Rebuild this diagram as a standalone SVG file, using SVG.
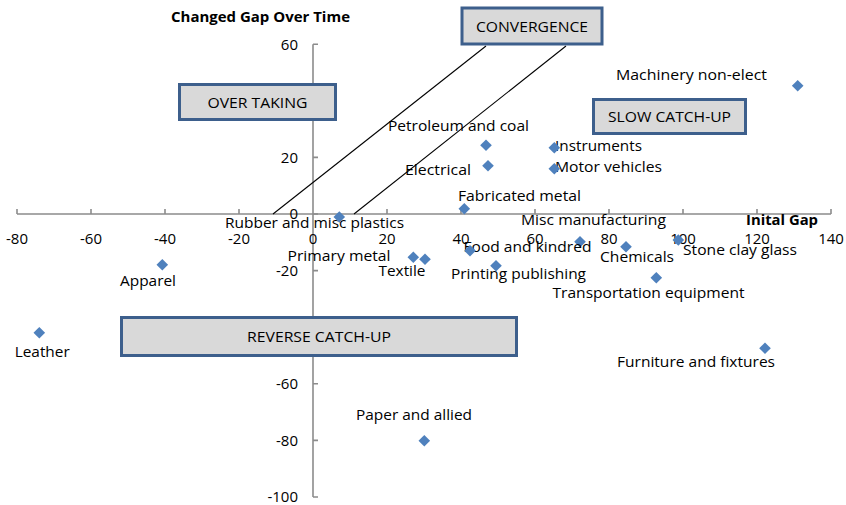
<svg xmlns="http://www.w3.org/2000/svg" xmlns:xlink="http://www.w3.org/1999/xlink" width="846" height="505" viewBox="0 0 846 505">
  <style>
    text { font-family: "Open Sans", "Liberation Sans", sans-serif; fill: #000; }
    .lbl { font-size: 15px; }
    .tick { font-size: 15px; }
    .ttl { font-size: 14px; font-weight: bold; }
    .axis { stroke: #8c8c8c; stroke-width: 1.6; fill: none; }
    .guide { stroke: #000; stroke-width: 1.1; fill: none; }
    .box rect { fill: #d9d9d9; stroke: #3d5f8c; stroke-width: 3; }
    .box text { font-size: 15px; text-anchor: middle; }
    .pt { fill: #4f81bd; }
  </style>
  <defs>
    <path id="d" d="M0,-5.8 L5.8,0 L0,5.8 L-5.8,0 Z"/>
  </defs>
  <rect width="846" height="505" fill="#fff"/>

  <!-- axes -->
  <g id="axes">
    <path class="axis" d="M17,214 H831 M17,209 V214 M91,209 V214 M165,209 V214 M239,209 V214 M387,209 V214 M461,209 V214 M535,209 V214 M609,209 V214 M683,209 V214 M757,209 V214 M831,209 V214"/>
    <path class="axis" d="M313,44.2 V497 M313,44.2 H318 M313,100.8 H318 M313,157.4 H318 M313,214 H318 M313,270.6 H318 M313,327.2 H318 M313,383.8 H318 M313,440.4 H318 M313,497 H318"/>
    <g class="tick" text-anchor="middle">
      <text x="17" y="244">-80</text>
      <text x="91" y="244">-60</text>
      <text x="165" y="244">-40</text>
      <text x="239" y="244">-20</text>
      <text x="313" y="244">0</text>
      <text x="387" y="244">20</text>
      <text x="461" y="244">40</text>
      <text x="535" y="244">60</text>
      <text x="609" y="244">80</text>
      <text x="683" y="244">100</text>
      <text x="757" y="244">120</text>
      <text x="831" y="244">140</text>
    </g>
    <g class="tick" text-anchor="end">
      <text x="298" y="49.5">60</text>
      <text x="298" y="162.5">20</text>
      <text x="298" y="219">0</text>
      <text x="298" y="276">-20</text>
      <text x="298" y="389">-60</text>
      <text x="298" y="445.5">-80</text>
      <text x="298" y="502">-100</text>
    </g>
    <text class="ttl" x="171" y="22" textLength="179" lengthAdjust="spacingAndGlyphs">Changed Gap Over Time</text>
    <text class="ttl" x="746" y="225" textLength="72" lengthAdjust="spacingAndGlyphs">Inital Gap</text>
  </g>

  <!-- boundary lines of the convergence band -->
  <g id="connectors">
    <line class="guide" x1="273" y1="214" x2="486" y2="46"/>
    <line class="guide" x1="354" y1="214" x2="566" y2="46"/>
  </g>

  <!-- industries -->
  <g id="machinery"><use xlink:href="#d" class="pt" x="797.7" y="85.7"/><text class="lbl" x="616" y="80" textLength="151" lengthAdjust="spacingAndGlyphs">Machinery non-elect</text></g>
  <g id="petroleum"><text class="lbl" x="388" y="131" textLength="141" lengthAdjust="spacingAndGlyphs">Petroleum and coal</text><use xlink:href="#d" class="pt" x="486" y="145.3"/></g>
  <g id="electrical"><text class="lbl" x="405" y="175" textLength="66" lengthAdjust="spacingAndGlyphs">Electrical</text><use xlink:href="#d" class="pt" x="488" y="165.7"/></g>
  <g id="instruments"><text class="lbl" x="555" y="151" textLength="87" lengthAdjust="spacingAndGlyphs">Instruments</text><use xlink:href="#d" class="pt" x="554.3" y="147.7"/></g>
  <g id="motor"><text class="lbl" x="555" y="172" textLength="107" lengthAdjust="spacingAndGlyphs">Motor vehicles</text><use xlink:href="#d" class="pt" x="554.3" y="168.7"/></g>
  <g id="fabricated"><text class="lbl" x="458" y="200.5" textLength="123" lengthAdjust="spacingAndGlyphs">Fabricated metal</text><use xlink:href="#d" class="pt" x="464.3" y="208.7"/></g>
  <g id="rubber"><text class="lbl" x="225" y="228" textLength="179" lengthAdjust="spacingAndGlyphs">Rubber and misc plastics</text><use xlink:href="#d" class="pt" x="339.3" y="217"/></g>
  <g id="misc"><text class="lbl" x="521" y="224.5" textLength="145" lengthAdjust="spacingAndGlyphs">Misc manufacturing</text><use xlink:href="#d" class="pt" x="580" y="241.7"/></g>
  <g id="stone"><text class="lbl" x="683" y="255" textLength="114" lengthAdjust="spacingAndGlyphs">Stone clay glass</text><use xlink:href="#d" class="pt" x="678.3" y="240"/></g>
  <g id="chemicals"><text class="lbl" x="600" y="261.5" textLength="74" lengthAdjust="spacingAndGlyphs">Chemicals</text><use xlink:href="#d" class="pt" x="626" y="246.7"/></g>
  <g id="food"><text class="lbl" x="463.5" y="252" textLength="128" lengthAdjust="spacingAndGlyphs">Food and kindred</text><use xlink:href="#d" class="pt" x="470" y="250.7"/></g>
  <g id="primary"><text class="lbl" x="287.5" y="260.5" textLength="103" lengthAdjust="spacingAndGlyphs">Primary metal</text><use xlink:href="#d" class="pt" x="413.3" y="257.3"/></g>
  <g id="textile"><text class="lbl" x="378.5" y="275.5" textLength="47" lengthAdjust="spacingAndGlyphs">Textile</text><use xlink:href="#d" class="pt" x="425" y="259.3"/></g>
  <g id="printing"><text class="lbl" x="451" y="279" textLength="135" lengthAdjust="spacingAndGlyphs">Printing publishing</text><use xlink:href="#d" class="pt" x="496" y="265.7"/></g>
  <g id="transportation"><text class="lbl" x="552.5" y="298" textLength="192" lengthAdjust="spacingAndGlyphs">Transportation equipment</text><use xlink:href="#d" class="pt" x="656.3" y="277.7"/></g>
  <g id="apparel"><use xlink:href="#d" class="pt" x="162.3" y="264.7"/><text class="lbl" x="120" y="285.5" textLength="56" lengthAdjust="spacingAndGlyphs">Apparel</text></g>
  <g id="leather"><use xlink:href="#d" class="pt" x="39.3" y="332.7"/><text class="lbl" x="14.7" y="357" textLength="55" lengthAdjust="spacingAndGlyphs">Leather</text></g>
  <g id="furniture"><use xlink:href="#d" class="pt" x="765" y="348.3"/><text class="lbl" x="617" y="366.5" textLength="158" lengthAdjust="spacingAndGlyphs">Furniture and fixtures</text></g>
  <g id="paper"><text class="lbl" x="356" y="420" textLength="116" lengthAdjust="spacingAndGlyphs">Paper and allied</text><use xlink:href="#d" class="pt" x="424.3" y="440.7"/></g>

  <!-- quadrant captions -->
  <g id="overtaking" class="box"><rect x="179.5" y="84.5" width="156" height="35"/><text x="257.5" y="107.5" textLength="100" lengthAdjust="spacingAndGlyphs">OVER TAKING</text></g>
  <g id="convergence" class="box"><rect x="462" y="8" width="140" height="36"/><text x="532" y="32" textLength="112" lengthAdjust="spacingAndGlyphs">CONVERGENCE</text></g>
  <g id="slow-catch-up" class="box"><rect x="593.5" y="99.5" width="152" height="34"/><text x="669.5" y="122" textLength="123" lengthAdjust="spacingAndGlyphs">SLOW CATCH-UP</text></g>
  <g id="reverse-catch-up" class="box"><rect x="121.5" y="317.5" width="395" height="38"/><text x="319" y="342" textLength="144" lengthAdjust="spacingAndGlyphs">REVERSE CATCH-UP</text></g>
</svg>
